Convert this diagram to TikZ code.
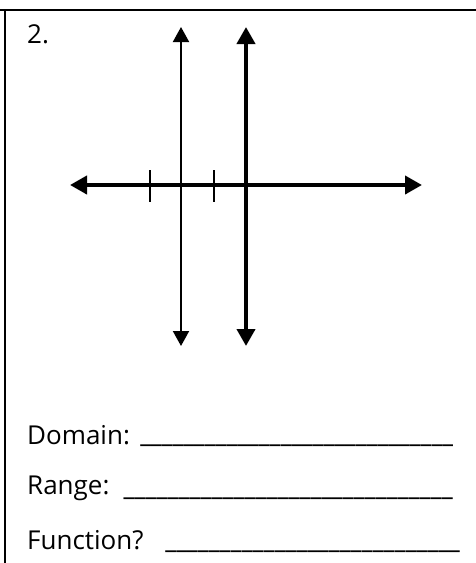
\documentclass[tikz,border=0pt]{standalone}
\usepackage{fontspec}
\setmainfont{Open Sans}
\usetikzlibrary{arrows.meta}
\tikzset{
  lbl/.style={anchor=base west, inner sep=0pt, font=\fontsize{26}{31}\selectfont},
  thinaxis/.style={line width=2pt, {Triangle[length=15pt,width=16pt]}-{Triangle[length=15pt,width=16pt]}},
  thickaxis/.style={line width=4pt, {Triangle[length=17pt,width=18pt]}-{Triangle[length=17pt,width=18pt]}},
  tick/.style={line width=1.5pt},
  border/.style={line width=2pt}
}
\newcommand{\blankline}[1]{\hbox to #1{\bfseries\xleaders\hbox{\_}\hfill}}
\begin{document}
\begin{tikzpicture}[x=1pt,y=-1pt]
\useasboundingbox (0,0) rectangle (476,563);
% frame
\coordinate (tl) at (0,10);
\coordinate (tr) at (476,10);
\coordinate (lt) at (5,10);
\coordinate (lb) at (5,563);
\draw[border] (tl) -- (tr);
\draw[line width=1.5pt] (lt) -- (lb);
% number
\node[lbl] (num) at (27,43) {2.};
% axes endpoints
\coordinate (vt1) at (181,27);
\coordinate (vb1) at (181,346);
\coordinate (vt2) at (246,27);
\coordinate (vb2) at (246,346);
\coordinate (hl) at (70,185);
\coordinate (hr) at (422,185);
\coordinate (t1a) at (150,170);
\coordinate (t1b) at (150,202);
\coordinate (t2a) at (214,170);
\coordinate (t2b) at (214,202);
\draw[tick] (t1a) -- (t1b);
\draw[tick] (t2a) -- (t2b);
\draw[thinaxis] (vb1) -- (vt1);
\draw[thickaxis] (vb2) -- (vt2);
\draw[thickaxis] (hl) -- (hr);
% text lines
\node[lbl] (dom) at (27,444) {Domain:};
\node[lbl] (domb) at (140,442) {\blankline{313pt}};
\node[lbl] (ran) at (27,494) {Range:};
\node[lbl] (ranb) at (123,495) {\blankline{330pt}};
\node[lbl] (fun) at (27,549) {Function?};
\node[lbl] (funb) at (165,548) {\blankline{295pt}};
\end{tikzpicture}
\end{document}
